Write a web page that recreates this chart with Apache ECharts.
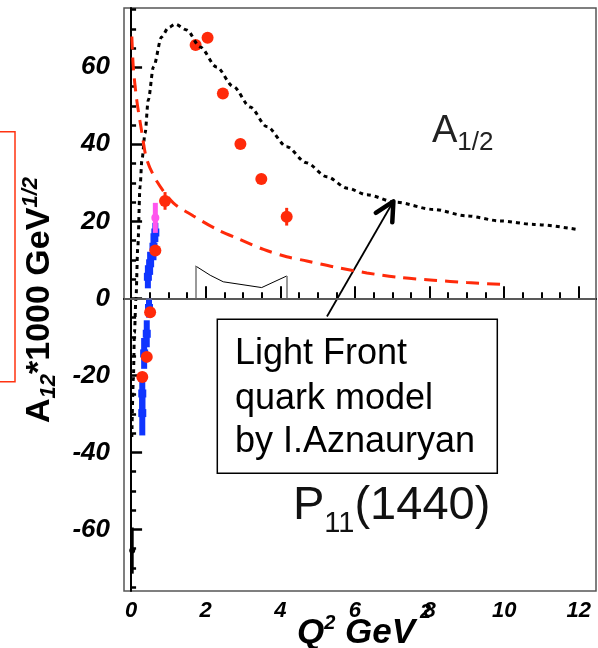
<!DOCTYPE html>
<html>
<head>
<meta charset="utf-8">
<script src="https://cdn.jsdelivr.net/npm/echarts@6/dist/echarts.min.js"></script>
<style>
  html, body { margin: 0; padding: 0; background: #fff; }
  #chart { width: 598px; height: 648px; }
</style>
</head>
<body>
<div id="chart"></div>
<script>
// Light Front quark model (black dotted)
const lfQ2 = [0.02, 0.06, 0.09, 0.13, 0.18, 0.24, 0.29, 0.375, 0.46, 0.6, 0.82, 1.0, 1.18, 1.49, 1.85, 2.29, 2.74, 3.19, 3.64, 4.17, 4.7, 5.24, 5.8, 6.32, 7.08, 8.1, 9.0, 9.9, 10.8, 11.95]
const lfA = [-36, -21.2, -9, 0, 13.4, 29, 35.9, 42.9, 51.5, 60.1, 67.9, 70.3, 71.2, 69.7, 65.3, 60.1, 55, 49.7, 44.6, 39.4, 35.2, 31.6, 28.6, 26.9, 25.0, 23.1, 21.4, 20.1, 19.2, 17.9]

// red dashed curve
const dashQ2 = [0.02, 0.06, 0.15, 0.29, 0.42, 0.69, 1.13, 1.67, 2.3, 2.92, 3.55, 4.17, 4.71, 5.42, 6.32, 7.21, 8.1, 9.0, 10.0]
const dashA = [68, 60, 51.6, 43, 36.1, 30.4, 24.8, 21.4, 17.9, 15.3, 12.7, 10.8, 9.7, 8.2, 6.6, 5.4, 4.7, 4.1, 3.6]

// data points with errors
const redQ2 = [0.30, 0.42, 0.51, 0.65, 0.91, 1.73, 2.05, 2.46, 2.93, 3.49, 4.17]
const redA = [-20.4, -15.2, -3.6, 12.4, 25.3, 65.8, 67.7, 53.2, 40.1, 31.0, 21.2]
const redErr = [1, 1, 1, 1, 2.3, 1, 1, 1, 1, 1, 2.3]

const blueQ2 = [0.30, 0.30, 0.35, 0.42, 0.48, 0.45, 0.51, 0.60, 0.65]
const blueA = [-29.8, -24.7, -14.3, -9.2, -2.5, 5.6, 9.1, 13.4, 17.1]
const blueErr = [5.8, 5, 4, 3.5, 2.5, 3, 3, 3.5, 2.5]

const pinkQ2 = [0.65]
const pinkA = [20.9]
const pinkErr = [3.9]

const blackQ2 = [0.03]
const blackA = [-65.5]
const blackErr = [6]

// small outlined band
const bandQ2 = [1.73, 2.12, 2.47, 3.5, 4.17]
const bandA = [8.4, 6.0, 4.3, 2.8, 5.8]

// arrow from the label box to the curve
const arrowFrom = [5.25, -4.7]
const arrowTo = [7.03, 25.2]

// ticks
const xMajor = [0, 2, 4, 6, 8, 10, 12]
const xMinor = [0, 0.5, 1, 1.5, 2, 2.5, 3, 3.5, 4, 4.5, 5, 5.5, 6, 6.5, 7, 7.5, 8, 8.5, 9, 9.5, 10, 10.5, 11, 11.5, 12]
const yMajor = [-60, -40, -20, 0, 20, 40, 60]
const yMinor = [-75, -70, -65, -60, -55, -50, -45, -40, -35, -30, -25, -20, -15, -10, -5, 0, 5, 10, 15, 20, 25, 30, 35, 40, 45, 50, 55, 60, 65, 70, 75]

const RED = "#ff2a0a"
const BLUE = "#0f35ff"
const PINK = "#ff55ee"
const FONT = "Liberation Sans"

const zip = (a, b, c) => a.map((v, i) => (c ? [v, b[i], c[i]] : [v, b[i]]))

function errorBars(color, barWidth, shape, size) {
  return function (params, api) {
    const x = api.value(0), y = api.value(1), e = api.value(2)
    const lo = api.coord([x, y - e])
    const hi = api.coord([x, y + e])
    const c = api.coord([x, y])
    const children = [{
      type: "line",
      shape: { x1: lo[0], y1: lo[1], x2: hi[0], y2: hi[1] },
      style: { stroke: color, lineWidth: barWidth }
    }]
    if (shape === "rect") {
      children.push({ type: "rect", shape: { x: c[0] - size / 2, y: c[1] - size / 2, width: size, height: size }, style: { fill: color } })
    } else {
      children.push({ type: "circle", shape: { cx: c[0], cy: c[1], r: size / 2 }, style: { fill: color } })
    }
    return { type: "group", children }
  }
}

function arrowItem(params, api) {
  const p0 = api.coord([api.value(0), api.value(1)])
  const p1 = api.coord([api.value(2), api.value(3)])
  const ang = Math.atan2(p0[1] - p1[1], p0[0] - p1[0])
  const len = 21, spread = 0.47
  const b1 = [p1[0] + len * Math.cos(ang + spread), p1[1] + len * Math.sin(ang + spread)]
  const b2 = [p1[0] + len * Math.cos(ang - spread), p1[1] + len * Math.sin(ang - spread)]
  return {
    type: "group",
    children: [
      { type: "line", shape: { x1: p0[0], y1: p0[1], x2: p1[0], y2: p1[1] }, style: { stroke: "#000", lineWidth: 1.8 } },
      { type: "polyline", shape: { points: [b1, p1, b2] }, style: { stroke: "#000", lineWidth: 4.5, fill: null, lineCap: "round", lineJoin: "round" } }
    ]
  }
}

const chart = echarts.init(document.getElementById("chart"))

const xBase = { type: "value", min: -0.19, max: 12.46, position: "bottom", splitLine: { show: false } }
const yBase = { type: "value", min: -76, max: 75.4, position: "left", splitLine: { show: false } }

chart.setOption({
  animation: false,
  backgroundColor: "#fff",
  grid: { left: 124, right: 2, top: 8, bottom: 57, show: true, borderColor: "#555", borderWidth: 1.5 },
  xAxis: [
    {
      ...xBase,
      axisLine: { lineStyle: { color: "#000", width: 2 } },
      axisTick: { inside: true, length: 12, customValues: xMajor, lineStyle: { color: "#000", width: 2 } },
      axisLabel: { customValues: xMajor, margin: 9, color: "#000", fontFamily: FONT, fontSize: 22, fontWeight: "bold", fontStyle: "italic" }
    },
    {
      ...xBase,
      axisLine: { show: false },
      axisTick: { inside: true, length: 6, customValues: xMinor, lineStyle: { color: "#000", width: 2 } },
      axisLabel: { show: false }
    }
  ],
  yAxis: [
    {
      ...yBase,
      axisLine: { lineStyle: { color: "#000", width: 2 } },
      axisTick: { inside: true, length: 11, customValues: yMajor, lineStyle: { color: "#000", width: 2.5 } },
      axisLabel: { customValues: yMajor, margin: 14, padding: [6, 0, 0, 0], color: "#000", fontFamily: FONT, fontSize: 26, fontWeight: "bold", fontStyle: "italic" }
    },
    {
      ...yBase,
      axisLine: { show: false },
      axisTick: { inside: true, length: 5, customValues: yMinor, lineStyle: { color: "#000", width: 2.5 } },
      axisLabel: { show: false }
    }
  ],
  series: [
    {
      name: "band",
      type: "line",
      data: zip(bandQ2, bandA),
      showSymbol: false,
      lineStyle: { color: "#000", width: 1 },
      markLine: {
        silent: true,
        symbol: "none",
        label: { show: false },
        lineStyle: { color: "#777", width: 1.5, type: "solid" },
        data: [
          { yAxis: 0 },
          [{ coord: [bandQ2[0], 0] }, { coord: [bandQ2[0], bandA[0]] }],
          [{ coord: [bandQ2[4], 0] }, { coord: [bandQ2[4], bandA[4]] }]
        ]
      }
    },
    {
      name: "Light Front",
      type: "line",
      data: zip(lfQ2, lfA),
      smooth: 0.3,
      smoothMonotone: "x",
      showSymbol: false,
      lineStyle: { color: "#000", width: 3, type: [4, 4] }
    },
    {
      name: "dashed",
      type: "line",
      data: zip(dashQ2, dashA),
      smooth: 0.3,
      showSymbol: false,
      lineStyle: { color: RED, width: 3, type: [13, 8] }
    },
    { name: "blue", type: "custom", renderItem: errorBars(BLUE, 6, "rect", 8), data: zip(blueQ2, blueA, blueErr), encode: { x: 0, y: 1 } },
    { name: "pink", type: "custom", renderItem: errorBars(PINK, 5, "circle", 8), data: zip(pinkQ2, pinkA, pinkErr), encode: { x: 0, y: 1 } },
    { name: "black", type: "custom", renderItem: errorBars("#000", 3, "circle", 6), data: zip(blackQ2, blackA, blackErr), encode: { x: 0, y: 1 } },
    { name: "red", type: "custom", renderItem: errorBars(RED, 3, "circle", 12), data: zip(redQ2, redA, redErr), encode: { x: 0, y: 1 } },
    { name: "arrow", type: "custom", renderItem: arrowItem, data: [[arrowFrom[0], arrowFrom[1], arrowTo[0], arrowTo[1]]], encode: { x: [0, 2], y: [1, 3] } }
  ],
  graphic: [
    { type: "rect", shape: { x: -1, y: 131.7, width: 16, height: 250 }, style: { fill: null, stroke: "#ff3311", lineWidth: 1.5 } },
    { type: "rect", shape: { x: 217.3, y: 319.3, width: 280, height: 154 }, style: { fill: "#fff", stroke: "#000", lineWidth: 1.5 }, z: 10 },
    { type: "text", x: 235, y: 354, z: 11, style: { text: "Light Front", font: "36px " + FONT, fill: "#000", verticalAlign: "middle" } },
    { type: "text", x: 235, y: 399, z: 11, style: { text: "quark model", font: "36px " + FONT, fill: "#000", verticalAlign: "middle" } },
    { type: "text", x: 235, y: 442.5, z: 11, style: { text: "by I.Aznauryan", font: "36px " + FONT, fill: "#000", verticalAlign: "middle" } },
    {
      type: "text", x: 432, y: 131.7, z: 11,
      style: {
        text: "{a|A}{s|1/2}", verticalAlign: "middle", fill: "#222",
        rich: {
          a: { fontFamily: FONT, fontSize: 38, lineHeight: 48, verticalAlign: "middle", fill: "#222" },
          s: { fontFamily: FONT, fontSize: 26, lineHeight: 24, verticalAlign: "bottom", fill: "#222" }
        }
      }
    },
    {
      type: "text", x: 293, y: 506, z: 11,
      style: {
        text: "{p|P}{s|11}{p|(1440)}", verticalAlign: "middle", fill: "#111",
        rich: {
          p: { fontFamily: FONT, fontSize: 47, lineHeight: 64, verticalAlign: "middle", fill: "#111" },
          s: { fontFamily: FONT, fontSize: 29, lineHeight: 30, verticalAlign: "bottom", fill: "#111" }
        }
      }
    },
    {
      type: "text", x: 40, y: 300, rotation: Math.PI / 2, z: 11,
      style: {
        text: "{a|A}{s|12}{a|*1000 GeV}{p|1/2}", align: "center", verticalAlign: "middle", fill: "#000",
        rich: {
          a: { fontFamily: FONT, fontSize: 34, fontWeight: "bold", lineHeight: 40, verticalAlign: "middle", fill: "#000" },
          s: { fontFamily: FONT, fontSize: 22, fontWeight: "bold", fontStyle: "italic", lineHeight: 22, verticalAlign: "bottom", fill: "#000" },
          p: { fontFamily: FONT, fontSize: 22, fontWeight: "bold", fontStyle: "italic", lineHeight: 22, verticalAlign: "top", fill: "#000" }
        }
      }
    },
    {
      type: "text", x: 297, y: 633, z: 11,
      style: {
        text: "{q|Q}{s|2}{q| GeV}", verticalAlign: "middle", fill: "#000",
        rich: {
          q: { fontFamily: FONT, fontSize: 35, fontWeight: "bold", fontStyle: "italic", lineHeight: 40, verticalAlign: "middle", fill: "#000" },
          s: { fontFamily: FONT, fontSize: 20, fontWeight: "bold", fontStyle: "italic", lineHeight: 20, verticalAlign: "top", fill: "#000" }
        }
      }
    },
    { type: "text", x: 420, y: 612, z: 11, style: { text: "2", font: "italic bold 20px " + FONT, fill: "#000", verticalAlign: "middle" } }
  ]
})
</script>
</body>
</html>
